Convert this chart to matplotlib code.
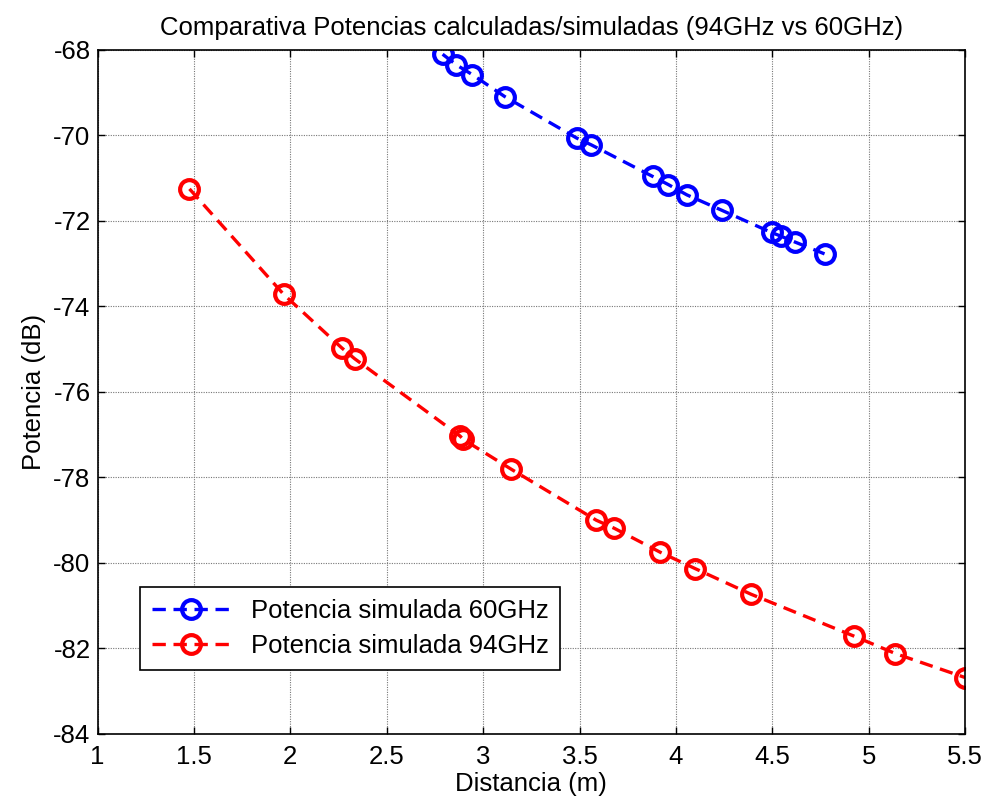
import matplotlib
matplotlib.use("Agg")
import matplotlib.pyplot as plt

plt.rcParams["font.family"] = ["Liberation Sans", "DejaVu Sans"]
plt.rcParams["axes.unicode_minus"] = False

# distances (m) and simulated power (dB)
dist_60 = [2.790, 2.862, 2.945, 3.112, 3.485, 3.561, 3.880, 3.961, 4.057,
           4.238, 4.496, 4.547, 4.616, 4.771]
pot_60 = [-68.10, -68.35, -68.58, -69.09, -70.06, -70.22, -70.96, -71.15,
          -71.39, -71.75, -72.27, -72.36, -72.49, -72.77]

dist_94 = [1.477, 1.966, 2.267, 2.333, 2.880, 2.897, 3.147, 3.587, 3.681,
           3.919, 4.099, 4.389, 4.923, 5.139, 5.500]
pot_94 = [-71.25, -73.72, -74.97, -75.22, -77.03, -77.11, -77.81, -79.00,
          -79.19, -79.75, -80.13, -80.73, -81.71, -82.12, -82.68]

xticks = [1, 1.5, 2, 2.5, 3, 3.5, 4, 4.5, 5, 5.5]
yticks = list(range(-84, -67, 2))

FS = 18.5

fig = plt.figure(figsize=(9.87, 8.07), dpi=100, facecolor="white")
ax = fig.add_axes([0.0988, 0.0905, 0.879, 0.8476])

style = dict(linestyle="--", linewidth=2.4, marker="o", markersize=13.5,
             markerfacecolor="none", markeredgewidth=3.0, dashes=(4, 2.3))
ax.plot(dist_60, pot_60, color="#0000ff", label="Potencia simulada 60GHz",
        **style)
ax.plot(dist_94, pot_94, color="#ff0000", label="Potencia simulada 94GHz",
        **style)

ax.set_xlim(1, 5.5)
ax.set_ylim(-84, -68)
ax.set_xticks(xticks)
ax.set_xticklabels([f"{t:g}" for t in xticks])
ax.set_yticks(yticks)
ax.grid(True, linestyle=(0, (1, 1.2)), color="#777777", linewidth=0.8)
ax.tick_params(direction="in", length=5, width=1, labelsize=FS,
               top=True, right=True)
ax.tick_params(axis="x", pad=8)
ax.tick_params(axis="y", pad=5)
for s in ax.spines.values():
    s.set_linewidth(1.2)

ax.set_xlabel("Distancia (m)", fontsize=FS, labelpad=2)
ax.set_ylabel("Potencia (dB)", fontsize=FS, labelpad=5)
ax.set_title("Comparativa Potencias calculadas/simuladas (94GHz vs 60GHz)",
             fontsize=FS, pad=11)

leg = ax.legend(loc="lower left", bbox_to_anchor=(0.049, 0.094), fontsize=FS,
                fancybox=False, framealpha=1, edgecolor="black",
                borderpad=0.45, handlelength=3.1, handletextpad=0.75,
                labelspacing=0.45, borderaxespad=0)
leg.get_frame().set_linewidth(1.2)

fig.savefig("out.png", dpi=100)
